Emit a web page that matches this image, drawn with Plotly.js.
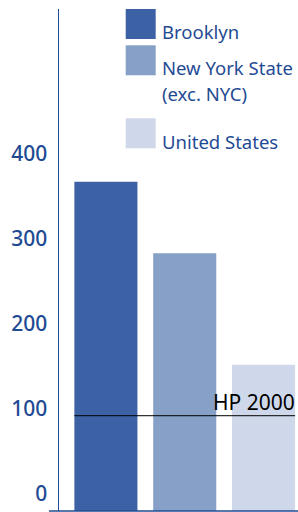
<!DOCTYPE html>
<html>
<head>
<meta charset="utf-8">
<script src="https://cdn.plot.ly/plotly-3.0.1.min.js"></script>
<style>
  html, body { margin: 0; padding: 0; background: #ffffff; }
  #chart { width: 298px; height: 512px; }
</style>
</head>
<body>
<div id="chart"></div>
<script>
// ---- data ----
const categories = ["Brooklyn", "New York State (exc. NYC)", "United States"];
const legendLines = [["Brooklyn"], ["New York State", "(exc. NYC)"], ["United States"]];
const values = [387, 303, 172];
const barColors = ["#3c62a5", "#86a0c8", "#cfd8ea"];
const targetLabel = "HP 2000";
const targetValue = 112;
const tickValues = [0, 100, 200, 300, 400];
const tickLabels = ["0", "100", "200", "300", "400"];

// ---- layout helpers ----
const W = 298, H = 512;
const M = { l: 59, r: 0, t: 9, b: 1 };
const pw = W - M.l - M.r, ph = H - M.t - M.b;
const px2paperX = x => (x - M.l) / pw;
const px2paperY = y => (H - M.b - y) / ph;
const blue = "#1f4b94";

const xIdx = categories.map((c, i) => i);
const barWidth = 0.8;

const traces = [{
  type: "bar",
  x: xIdx,
  y: values,
  width: barWidth,
  marker: { color: barColors, line: { width: 0 } },
  hoverinfo: "skip",
  showlegend: false
}, {
  type: "scatter",
  mode: "lines",
  x: [xIdx[0] - barWidth / 2, xIdx[xIdx.length - 1] + barWidth / 2],
  y: [targetValue, targetValue],
  line: { color: "#000000", width: 1 },
  hoverinfo: "skip",
  showlegend: false
}];

const shapes = [];
const annotations = [];

// legend swatches
const swatchTops = [9, 45.3, 118.3];
const swatchSize = 30;
const baselines = [[37.7], [74, 100], [147.7]];
const legFs = 18.5;
categories.forEach((c, i) => {
  shapes.push({
    type: "rect", xref: "paper", yref: "paper",
    x0: px2paperX(125.7), x1: px2paperX(125.7 + swatchSize),
    y0: px2paperY(swatchTops[i] + swatchSize), y1: px2paperY(swatchTops[i]),
    fillcolor: barColors[i], line: { width: 0 }
  });
  legendLines[i].forEach((t, j) => {
    annotations.push({
      xref: "paper", yref: "paper",
      x: px2paperX(160.5), y: px2paperY(baselines[i][j] - 0.33 * legFs),
      xanchor: "left", yanchor: "middle",
      text: t, showarrow: false, borderpad: 0,
      font: { family: "Noto Sans", size: legFs, color: blue }
    });
  });
});

// target label
annotations.push({
  xref: "x", yref: "y",
  x: xIdx[xIdx.length - 1] + barWidth / 2 + 0.01, y: targetValue,
  xanchor: "right", yanchor: "bottom", yshift: -1,
  text: targetLabel, showarrow: false, borderpad: 0,
  font: { family: "Noto Sans", size: 21, color: "#000000" }
});

// bottom baseline extending left of the y axis
shapes.push({
  type: "line", xref: "paper", yref: "paper",
  x0: px2paperX(49), x1: 1, y0: 0, y1: 0,
  line: { color: blue, width: 1.5 }
});

const layout = {
  width: W, height: H,
  margin: M,
  paper_bgcolor: "#ffffff",
  plot_bgcolor: "#ffffff",
  showlegend: false,
  xaxis: {
    range: [-0.595, 2.437],
    showticklabels: false, showgrid: false, zeroline: false, showline: false,
    ticks: "", fixedrange: true
  },
  yaxis: {
    range: [0, 590],
    tickmode: "array", tickvals: tickValues, ticktext: tickLabels,
    ticks: "", ticklen: 0, showgrid: false, zeroline: false,
    showline: true, linecolor: blue, linewidth: 1.5,
    ticklabelshift: -17, ticklabelstandoff: 6, ticklabeloverflow: "allow",
    tickfont: { family: "Noto Sans", size: 21, color: blue, weight: 500 },
    fixedrange: true
  },
  shapes: shapes,
  annotations: annotations
};

Plotly.newPlot("chart", traces, layout, { staticPlot: true, displayModeBar: false });
</script>
</body>
</html>
